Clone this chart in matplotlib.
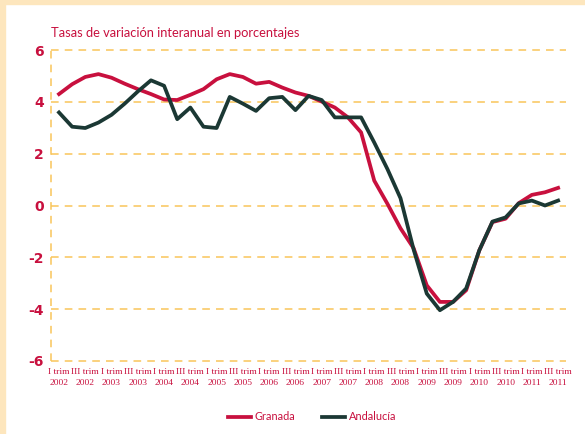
import numpy as np
import matplotlib.pyplot as plt
from matplotlib import font_manager
from matplotlib.patches import Rectangle

# quarterly series, I trim 2002 .. III trim 2011
years = list(range(2002, 2012))
granada = [4.30, 4.68, 4.96, 5.07, 4.93, 4.70, 4.49, 4.30, 4.09, 4.07,
           4.27, 4.49, 4.87, 5.07, 4.96, 4.70, 4.77, 4.55, 4.36, 4.23,
           4.01, 3.78, 3.40, 2.82, 0.96, 0.07, -0.88, -1.65, -3.08, -3.72,
           -3.72, -3.27, -1.73, -0.64, -0.51, 0.09, 0.41, 0.51, 0.68]
andalucia = [3.59, 3.04, 2.99, 3.20, 3.50, 3.93, 4.40, 4.83, 4.62, 3.33,
             3.78, 3.04, 2.99, 4.19, 3.93, 3.65, 4.14, 4.19, 3.68, 4.23,
             4.07, 3.40, 3.40, 3.40, 2.43, 1.41, 0.28, -1.70, -3.40, -4.04,
             -3.72, -3.20, -1.73, -0.62, -0.46, 0.08, 0.19, 0.00, 0.19]
tick_labels = []
for y in years:
    tick_labels += ['I trim\n%d' % y, 'III trim\n%d' % y]
tick_labels = tick_labels[:20]

red = '#c8103e'
dark = '#1b3834'
grid_col = '#f9c55a'
x = np.arange(len(granada))

# narrow font for the quarter labels, if one is around
names = {f.name for f in font_manager.fontManager.ttflist}
if 'Liberation Sans Narrow' in names:
    tick_font, tick_size = 'Liberation Sans Narrow', 7.5
else:
    tick_font, tick_size = 'Liberation Serif', 6.8

fig = plt.figure(figsize=(5.85, 4.34), dpi=100)
fig.patch.set_facecolor('white')
fig.add_artist(Rectangle((0, 1 - 4 / 434), 1, 4 / 434, transform=fig.transFigure,
                         color='#fde6bd', zorder=0))
fig.add_artist(Rectangle((0, 0), 5 / 585, 1, transform=fig.transFigure,
                         color='#fde6bd', zorder=0))

ax = fig.add_axes([51 / 585, 1 - 361 / 434, (566 - 51) / 585, 311 / 434])
ax.set_facecolor('none')

for v in range(-6, 7, 2):
    ax.axhline(v, color=grid_col, lw=1.1, ls=(0, (5, 4)), zorder=1, clip_on=False)
ax.axvline(-0.61, color=grid_col, lw=1.1, ls=(0, (5, 4)), zorder=1, clip_on=False)

ax.plot(x, granada, color=red, lw=2.7, label='Granada', zorder=3)
ax.plot(x, andalucia, color=dark, lw=2.7, label='Andalucía', zorder=4)

ax.set_xlim(-0.61, 38.6)
ax.set_ylim(-6, 6)
for s in ax.spines.values():
    s.set_visible(False)

ax.set_yticks(range(-6, 7, 2))
ax.set_yticklabels([str(v) for v in range(-6, 7, 2)], color=red,
                   fontweight='bold', fontsize=10)
ax.set_xticks(x[::2])
ax.set_xticklabels(tick_labels, color=red, fontsize=tick_size,
                   family=[tick_font, 'DejaVu Sans'], linespacing=1.55)
ax.tick_params(length=0, axis='y', pad=5)
ax.tick_params(length=0, axis='x', pad=5)

fig.text(51 / 585, 1 - 33 / 434, 'Tasas de variación interanual en porcentajes',
         color=red, fontsize=9.3, va='center', ha='left', family='Lato')

fig.legend(loc='center', bbox_to_anchor=(312 / 585, 1 - 417 / 434), ncol=2,
           frameon=False, handlelength=2.1, handletextpad=0.35,
           columnspacing=2.4, prop={'size': 7.9, 'family': 'Lato'},
           labelcolor=red)

fig.savefig('out.png', dpi=100)
